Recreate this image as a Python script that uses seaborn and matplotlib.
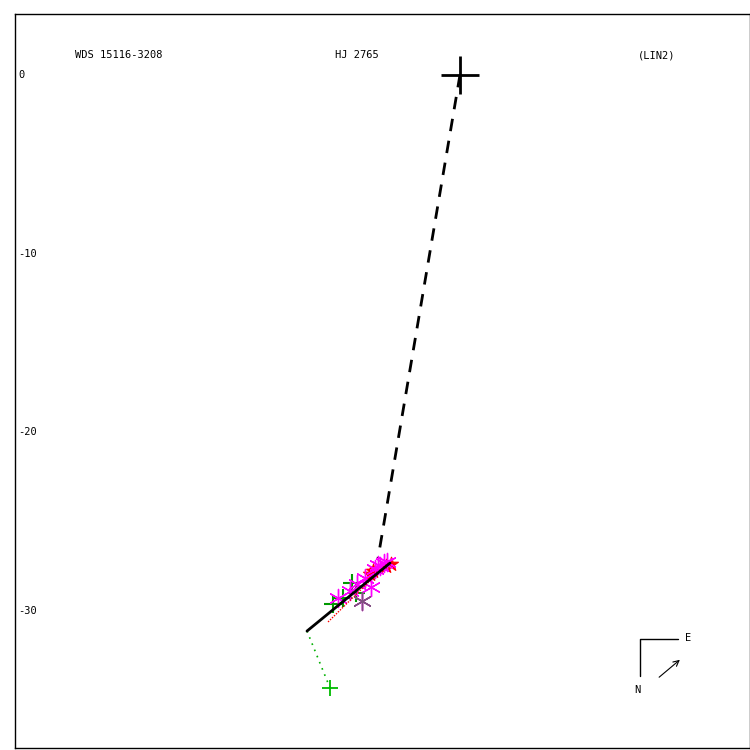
import numpy as np
import pandas as pd
import seaborn as sns
import matplotlib
matplotlib.use("Agg")
import matplotlib.pyplot as plt

# measurements (arcsec, relative to primary)
green_x = [-6.05, -7.11, -6.55, -5.80]
green_y = [-28.46, -29.64, -29.30, -29.00]
outlier_x = [-7.28]
outlier_y = [-34.34]
magenta_x = [-5.49, -4.99, -6.16, -6.83, -5.32, -4.76, -4.48, -4.26, -4.59, -5.77, -4.10]
magenta_y = [-29.47, -28.68, -28.91, -29.30, -28.18, -27.67, -27.51, -27.34, -27.45, -28.52, -27.30]
red_x = [-4.87, -4.15, -3.85, -5.04]
red_y = [-27.79, -27.50, -27.39, -27.95]

# fitted motion and connectors
dash_x = [0.0, -4.59]
dash_y = [0.0, -27.06]
fit_x = [-8.57, -3.92]
fit_y = [-31.15, -27.34]
red_fit_x = [-7.39, -4.03]
red_fit_y = [-30.64, -27.34]
resid_x = [-8.57, -7.28]
resid_y = [-31.15, -34.34]

yticks = [0, -10, -20, -30]

sns.set_style("white")
plt.rcParams["font.family"] = ["DejaVu Sans Mono", "DejaVu Sans"]
plt.rcParams["text.color"] = "black"
plt.rcParams["ytick.color"] = "black"

fig = plt.figure(figsize=(7.5, 7.5), dpi=100)
ax = fig.add_axes([0.02, 0.0027, 0.98, 0.9787])

sns.lineplot(x=dash_x, y=dash_y, ax=ax, color="black", lw=2, linestyle=(0, (4.5, 3.5)), sort=False)
sns.lineplot(x=resid_x, y=resid_y, ax=ax, color="#00b000", lw=1.2, linestyle=(0, (1, 3)), sort=False)

sns.scatterplot(x=red_x, y=red_y, ax=ax, marker="*", s=110, color="red", edgecolor="red", zorder=3)
sns.scatterplot(x=green_x, y=green_y, ax=ax, marker="+", s=150, color="#009900", linewidth=1.5, zorder=3)
sns.scatterplot(x=outlier_x, y=outlier_y, ax=ax, marker="+", s=120, color="#00bb00", linewidth=1.3, zorder=3)
sns.scatterplot(x=magenta_x, y=magenta_y, ax=ax, marker=(6, 2, 0), s=170, color="#ff00ff", linewidth=1.0, zorder=3)
sns.scatterplot(x=[magenta_x[0]], y=[magenta_y[0]], ax=ax, marker=(6, 2, 0), s=170, color="#805080", linewidth=1.0, zorder=3)

sns.lineplot(x=red_fit_x, y=red_fit_y, ax=ax, color="red", lw=1.0, linestyle=(0, (1, 1)), sort=False, zorder=4)
sns.lineplot(x=fit_x, y=fit_y, ax=ax, color="black", lw=2, sort=False, zorder=5)

ax.plot([0], [0], marker="+", markersize=27, mew=2, color="black", zorder=6)

ax.set_xlim(-24.93, 16.25)
ax.set_ylim(-37.70, 3.42)
ax.set_xticks([])
ax.set_yticks(yticks)
ax.set_yticklabels([str(t) for t in yticks])
ax.tick_params(axis="y", length=0, pad=-2.5, labelsize=7.5)
for lbl in ax.get_yticklabels():
    lbl.set_ha("left")
    lbl.set_va("center")
for sp in ax.spines.values():
    sp.set_color("black")
    sp.set_linewidth(1.0)

fig.text(75 / 750, 1 - 55 / 750, "WDS 15116-3208", fontsize=7.5, va="center", ha="left")
fig.text(335 / 750, 1 - 55 / 750, "HJ 2765", fontsize=7.5, va="center", ha="left")
fig.text(638 / 750, 1 - 55 / 750, "(LIN2)", fontsize=7.5, va="center", ha="left")

# compass
fig.add_artist(plt.Line2D([640 / 750, 640 / 750, 678 / 750], [1 - 676 / 750, 1 - 639 / 750, 1 - 639 / 750], color="black", lw=1))
fig.text(685 / 750, 1 - 638 / 750, "E", fontsize=7.5, va="center", ha="left")
fig.text(637 / 750, 1 - 690 / 750, "N", fontsize=7.5, va="center", ha="center")
ax.annotate("", xy=(682 / 750, 1 - 658 / 750), xytext=(657 / 750, 1 - 679 / 750),
            xycoords="figure fraction", textcoords="figure fraction",
            arrowprops=dict(arrowstyle="->", color="black", lw=0.8))

fig.savefig("out.png", dpi=100)
